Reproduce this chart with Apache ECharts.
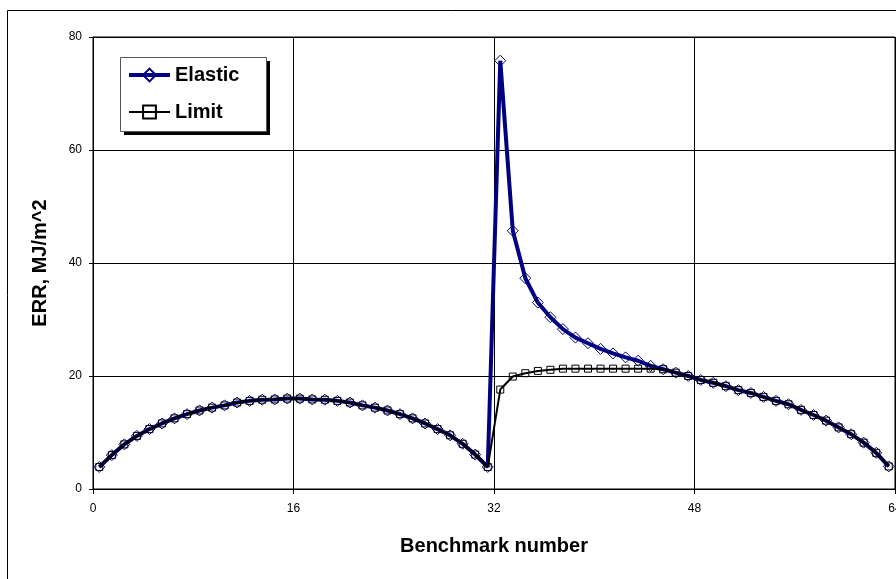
<!DOCTYPE html>
<html>
<head>
<meta charset="utf-8">
<script src="https://cdn.jsdelivr.net/npm/echarts@6/dist/echarts.min.js"></script>
<style>
  html, body { margin: 0; padding: 0; background: #fff; }
  #chart { width: 896px; height: 579px; }
</style>
</head>
<body>
<div id="chart"></div>
<script>
// Benchmark numbers 1..64; each one sits in the middle of its unit slot on the x axis
const benchmarks = [
  1, 2, 3, 4, 5, 6, 7, 8, 9, 10, 11, 12, 13, 14, 15, 16,
  17, 18, 19, 20, 21, 22, 23, 24, 25, 26, 27, 28, 29, 30, 31, 32,
  33, 34, 35, 36, 37, 38, 39, 40, 41, 42, 43, 44, 45, 46, 47, 48,
  49, 50, 51, 52, 53, 54, 55, 56, 57, 58, 59, 60, 61, 62, 63, 64
];

// Energy release rate, MJ/m^2
const elastic = [
  3.9, 6.0, 7.9, 9.4, 10.6, 11.6, 12.5, 13.25, 13.9, 14.4, 14.8, 15.3, 15.6, 15.8, 15.85, 16.0,
  16.0, 15.85, 15.8, 15.6, 15.3, 14.8, 14.4, 13.9, 13.25, 12.5, 11.6, 10.6, 9.5, 8.0, 6.1, 3.9,
  75.8, 45.7, 37.3, 33.0, 30.4, 28.3, 26.8, 25.8, 24.8, 24.0, 23.3, 22.7, 21.8, 21.2, 20.6, 20.0,
  19.3, 18.8, 18.2, 17.5, 17.0, 16.3, 15.6, 15.0, 14.0, 13.1, 12.1, 10.9, 9.7, 8.2, 6.4, 4.0
];

const limit = [
  3.9, 6.0, 7.9, 9.4, 10.6, 11.6, 12.5, 13.25, 13.9, 14.4, 14.8, 15.3, 15.6, 15.8, 15.85, 16.0,
  16.0, 15.85, 15.8, 15.6, 15.3, 14.8, 14.4, 13.9, 13.25, 12.5, 11.6, 10.6, 9.5, 8.0, 6.1, 3.9,
  17.6, 19.9, 20.5, 20.9, 21.1, 21.3, 21.3, 21.3, 21.3, 21.3, 21.3, 21.3, 21.3, 21.2, 20.6, 20.0,
  19.3, 18.8, 18.2, 17.5, 17.0, 16.3, 15.6, 15.0, 14.0, 13.1, 12.1, 10.9, 9.7, 8.2, 6.4, 4.0
];

const xTicks = [0, 16, 32, 48, 64];
const yTicks = [0, 20, 40, 60, 80];

const pairs = (vals) => vals.map((v, i) => [benchmarks[i] - 0.5, v]);

const FONT = 'Liberation Sans, Arial, sans-serif';

const chart = echarts.init(document.getElementById('chart'), null, { renderer: 'canvas' });

chart.setOption({
  animation: false,
  backgroundColor: '#fff',
  grid: {
    left: 93, top: 37, right: 1, bottom: 90,
    containLabel: false,
    outerBoundsMode: 'none',
    show: true, borderColor: '#000', borderWidth: 1, backgroundColor: 'transparent'
  },
  graphic: [
    { type: 'rect', z: 0, silent: true,
      shape: { x: 7.5, y: 10.5, width: 1200, height: 1200 },
      style: { fill: 'none', stroke: '#000', lineWidth: 1 } },
    { type: 'rect', z: 5, silent: true,
      shape: { x: 124, y: 61, width: 146, height: 74 },
      style: { fill: '#000' } },
    { type: 'rect', z: 5, silent: true,
      shape: { x: 120.5, y: 57.5, width: 146, height: 74 },
      style: { fill: '#fff', stroke: '#555', lineWidth: 1 } }
  ],
  legend: {
    z: 10,
    left: 127, top: 64,
    orient: 'vertical',
    padding: 0,
    itemWidth: 41, itemHeight: 16, itemGap: 15,
    textStyle: { fontFamily: FONT, fontSize: 20, fontWeight: 'bold', color: '#000', lineHeight: 22 },
    data: [
      { name: 'Elastic', lineStyle: { width: 4, color: '#000080' } },
      { name: 'Limit', lineStyle: { width: 2, color: '#000' } }
    ]
  },
  xAxis: {
    type: 'value',
    min: xTicks[0], max: xTicks[xTicks.length - 1], interval: 16,
    name: 'Benchmark number',
    nameLocation: 'middle', nameGap: 47,
    nameTextStyle: { fontFamily: FONT, fontSize: 20, fontWeight: 'bold', color: '#000' },
    axisLine: { lineStyle: { color: '#000', width: 1 } },
    axisTick: { show: true, inside: false, length: 5, lineStyle: { color: '#000' } },
    axisLabel: { fontFamily: FONT, fontSize: 12, color: '#000', margin: 14, showMaxLabel: true, showMinLabel: true },
    splitLine: { show: true, lineStyle: { color: '#000', width: 1 } }
  },
  yAxis: {
    type: 'value',
    min: yTicks[0], max: yTicks[yTicks.length - 1], interval: 20,
    name: 'ERR, MJ/m^2',
    nameLocation: 'middle', nameGap: 43,
    nameTextStyle: { fontFamily: FONT, fontSize: 20, fontWeight: 'bold', color: '#000' },
    axisLine: { show: true, lineStyle: { color: '#000', width: 1 } },
    axisTick: { show: true, inside: false, length: 4, lineStyle: { color: '#000' } },
    axisLabel: { fontFamily: FONT, fontSize: 12, color: '#000', margin: 11 },
    splitLine: { show: true, lineStyle: { color: '#000', width: 1 } }
  },
  series: [
    {
      name: 'Elastic',
      type: 'line',
      data: pairs(elastic),
      z: 2,
      symbol: 'diamond',
      symbolSize: 11,
      showAllSymbol: true,
      lineStyle: { color: '#000080', width: 4 },
      itemStyle: { color: 'rgba(255,255,255,0)', borderColor: '#000080', borderWidth: 1 },
      emphasis: { disabled: true }
    },
    {
      name: 'Limit',
      type: 'line',
      data: pairs(limit),
      z: 3,
      symbol: 'rect',
      symbolSize: 7,
      showAllSymbol: true,
      lineStyle: { color: '#000', width: 2 },
      itemStyle: { color: 'rgba(255,255,255,0)', borderColor: '#000', borderWidth: 1 },
      emphasis: { disabled: true }
    }
  ]
});
</script>
</body>
</html>
